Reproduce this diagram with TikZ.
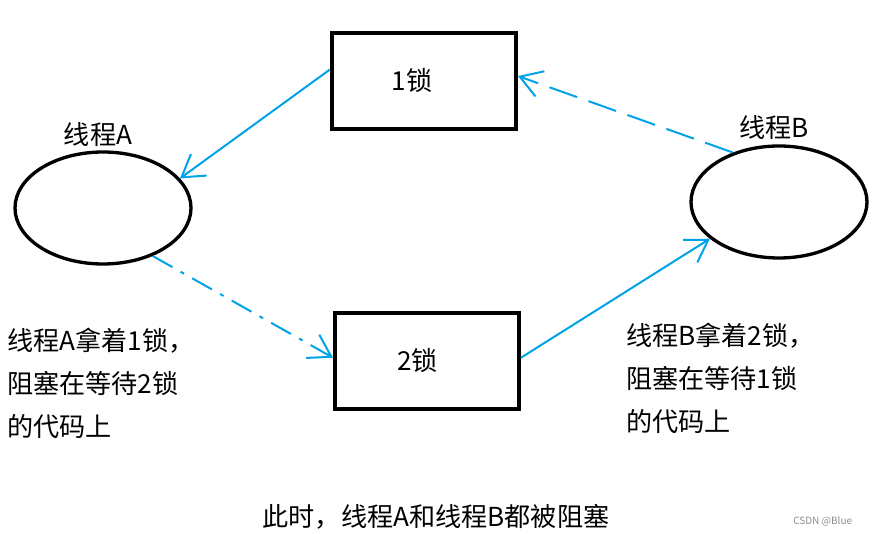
\documentclass[tikz,border=0pt]{standalone}
\usepackage{fontspec}
\setmainfont{Noto Sans CJK SC}
\usetikzlibrary{shapes.geometric,arrows.meta}
\definecolor{paintblue}{RGB}{0,162,232}
\tikzset{
	lock/.style={draw,line width=3pt,minimum width=138pt,minimum height=72pt,inner sep=0pt},
	thread/.style={draw,ellipse,line width=2.5pt,minimum width=132pt,minimum height=84pt,inner sep=0pt},
	link/.style={paintblue,line width=1.5pt,-{Straight Barb[length=16pt,width=20pt]}},
	txt/.style={font=\fontsize{19.6}{32.25}\selectfont,inner sep=0pt}
}

\begin{document}
\begin{tikzpicture}[x=0.75pt,y=-0.75pt]
			\useasboundingbox (0,0) rectangle (875,534);
			\coordinate (A) at (103,208);
			\coordinate (B) at (779,202);
			\node[thread] (TA) at (A) {};
			\node[thread] (TB) at (B) {};
			\node[lock,txt] (L1) at (424,81) {1锁\rule{18pt}{0pt}};
			\node[lock,txt] (L2) at (427,361) {2锁\rule{14pt}{0pt}};
			\node[txt] (nA) at (98,135) {线程A};
			\node[txt] (nB) at (774,128) {线程B};
			\draw[link] (L1.173)--(TA.21);
			\draw[link,dash pattern=on 22pt off 9pt] (TB.133)--(L1.3);
			\draw[link,dash pattern=on 17pt off 7pt on 3pt off 7pt] (TA.-44)--(L2.178);
			\draw[link] (L2.2)--(TB.208);
			\node[txt,align=left,anchor=west] (hA) at (7,383) {线程A拿着1锁，\\阻塞在等待2锁\\的代码上};
			\node[txt,align=left,anchor=west] (hB) at (626,378) {线程B拿着2锁，\\阻塞在等待1锁\\的代码上};
			\node[txt] (note) at (436,517) {此时，线程A和线程B都被阻塞};
			\node[font=\fontsize{7.5}{9}\selectfont,text=black!45,anchor=west,inner sep=0pt] (mark) at (793,521) {CSDN @Blue};
		\end{tikzpicture}
\end{document}
